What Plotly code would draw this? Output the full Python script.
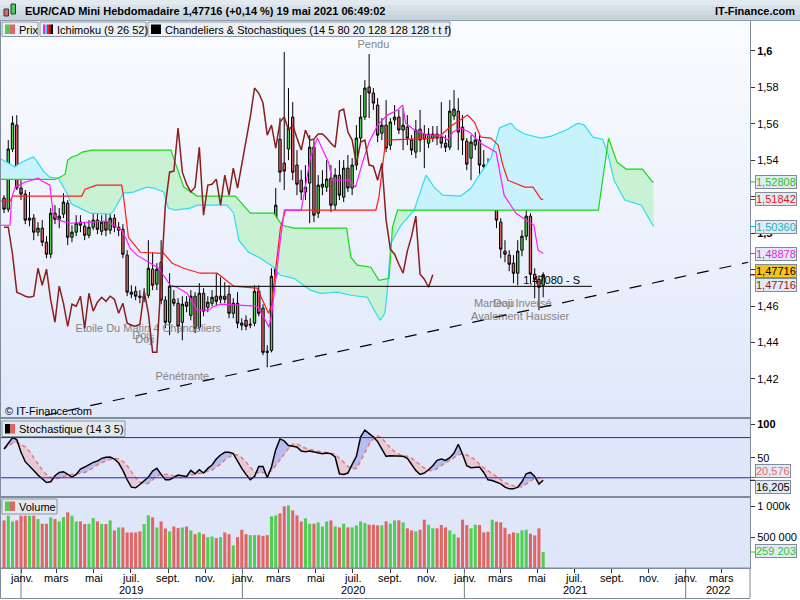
import numpy as np
import pandas as pd
import plotly.graph_objects as go
from plotly.subplots import make_subplots

# ---------------------------------------------------------------- data
# weekly EUR/CAD candles as drawn on the chart (first week, then +7 days)
first_week = "2018-12-04"

opens = [1.5192, 1.5131, 1.5461, 1.5592, 1.5247, 1.5214, 1.5071, 1.5082, 1.5005, 1.5027,
         1.4950, 1.4884, 1.5109, 1.5076, 1.5104, 1.5164, 1.4977, 1.5005, 1.5060, 1.5038,
         1.4988, 1.5032, 1.5071, 1.5010, 1.5060, 1.5016, 1.5082, 1.5016, 1.5021, 1.4879,
         1.4676, 1.4681, 1.4654, 1.4643, 1.4659, 1.4802, 1.4720, 1.4840, 1.4632, 1.4511,
         1.4637, 1.4615, 1.4511, 1.4621, 1.4549, 1.4654, 1.4484, 1.4670, 1.4593, 1.4615,
         1.4654, 1.4637, 1.4654, 1.4665, 1.4560, 1.4615, 1.4506, 1.4522, 1.4495, 1.4506,
         1.4681, 1.4588, 1.4352, 1.4357, 1.4769, 1.5515, 1.5384, 1.5461, 1.5636, 1.5373,
         1.5290, 1.5225, 1.5274, 1.5471, 1.5109, 1.5252, 1.5252, 1.5301, 1.5153, 1.5318,
         1.5197, 1.5356, 1.5247, 1.5373, 1.5521, 1.5636, 1.5801, 1.5768, 1.5702, 1.5548,
         1.5592, 1.5482, 1.5620, 1.5636, 1.5565, 1.5581, 1.5510, 1.5444, 1.5570, 1.5543,
         1.5493, 1.5521, 1.5543, 1.5526, 1.5493, 1.5471, 1.5642, 1.5669, 1.5581, 1.5504,
         1.5411, 1.5482, 1.5510, 1.5373, 1.5373, 1.5290, 1.5384, 1.5060, 1.4901, 1.4879,
         1.4835, 1.4780, 1.4906, 1.4983, 1.5093, 1.4774, 1.4747, 1.4714]
highs = [1.5208, 1.5510, 1.5642, 1.5647, 1.5290, 1.5236, 1.5225, 1.5104, 1.5060, 1.5071,
         1.4983, 1.5137, 1.5153, 1.5137, 1.5219, 1.5181, 1.5043, 1.5098, 1.5098, 1.5060,
         1.5071, 1.5115, 1.5181, 1.5098, 1.5115, 1.5115, 1.5104, 1.5060, 1.5049, 1.4906,
         1.4714, 1.4709, 1.4687, 1.4698, 1.4961, 1.4895, 1.4835, 1.4961, 1.4654, 1.4780,
         1.4687, 1.4643, 1.4654, 1.4654, 1.4687, 1.4676, 1.4725, 1.4698, 1.4654, 1.4687,
         1.4780, 1.4758, 1.4731, 1.4714, 1.4643, 1.4676, 1.4533, 1.4549, 1.4533, 1.4714,
         1.4714, 1.4610, 1.4385, 1.4807, 1.5247, 1.5631, 1.5993, 1.5795, 1.5718, 1.5455,
         1.5345, 1.5373, 1.5537, 1.5510, 1.5318, 1.5345, 1.5400, 1.5373, 1.5356, 1.5400,
         1.5400, 1.5428, 1.5411, 1.5592, 1.5757, 1.5839, 1.5982, 1.5795, 1.5740, 1.5631,
         1.5729, 1.5631, 1.5702, 1.5675, 1.5686, 1.5647, 1.5537, 1.5620, 1.5675, 1.5592,
         1.5576, 1.5587, 1.5587, 1.5718, 1.5537, 1.5729, 1.5784, 1.5740, 1.5647, 1.5521,
         1.5537, 1.5554, 1.5537, 1.5455, 1.5411, 1.5411, 1.5428, 1.5082, 1.4961, 1.4906,
         1.4879, 1.4961, 1.5016, 1.5192, 1.5109, 1.4807, 1.4769, 1.4785]
lows = [1.5109, 1.5115, 1.5444, 1.5236, 1.5181, 1.5049, 1.5038, 1.4961, 1.4983, 1.4928,
        1.4862, 1.4862, 1.5049, 1.5027, 1.5082, 1.4934, 1.4950, 1.4983, 1.5005, 1.4961,
        1.4972, 1.5016, 1.4994, 1.4988, 1.4983, 1.4994, 1.5005, 1.4983, 1.4862, 1.4654,
        1.4643, 1.4632, 1.4615, 1.4621, 1.4643, 1.4687, 1.4687, 1.4610, 1.4478, 1.4440,
        1.4599, 1.4451, 1.4412, 1.4566, 1.4522, 1.4451, 1.4467, 1.4544, 1.4566, 1.4599,
        1.4604, 1.4615, 1.4615, 1.4533, 1.4533, 1.4478, 1.4467, 1.4467, 1.4478, 1.4489,
        1.4544, 1.4330, 1.4264, 1.4346, 1.4752, 1.5279, 1.5236, 1.5400, 1.5290, 1.5208,
        1.5181, 1.5181, 1.5054, 1.5060, 1.5082, 1.5208, 1.5225, 1.5115, 1.5126, 1.5181,
        1.5170, 1.5225, 1.5208, 1.5345, 1.5499, 1.5620, 1.5631, 1.5675, 1.5499, 1.5510,
        1.5444, 1.5455, 1.5592, 1.5543, 1.5455, 1.5482, 1.5428, 1.5411, 1.5444, 1.5356,
        1.5466, 1.5499, 1.5482, 1.5466, 1.5444, 1.5455, 1.5620, 1.5455, 1.5428, 1.5345,
        1.5290, 1.5455, 1.5192, 1.5334, 1.5263, 1.5236, 1.5027, 1.4862, 1.4840, 1.4791,
        1.4725, 1.4714, 1.4873, 1.4961, 1.4725, 1.4643, 1.4577, 1.4648]
closes = [1.5131, 1.5461, 1.5603, 1.5247, 1.5214, 1.5071, 1.5082, 1.5005, 1.5027, 1.4950,
          1.4884, 1.5109, 1.5076, 1.5093, 1.5170, 1.4977, 1.5005, 1.5054, 1.5043, 1.4988,
          1.5032, 1.5071, 1.5021, 1.5060, 1.5016, 1.5082, 1.5032, 1.5032, 1.4884, 1.4676,
          1.4665, 1.4654, 1.4648, 1.4654, 1.4807, 1.4714, 1.4802, 1.4632, 1.4511, 1.4709,
          1.4615, 1.4489, 1.4610, 1.4599, 1.4654, 1.4478, 1.4670, 1.4572, 1.4621, 1.4648,
          1.4626, 1.4654, 1.4637, 1.4560, 1.4615, 1.4506, 1.4495, 1.4489, 1.4500, 1.4681,
          1.4560, 1.4346, 1.4346, 1.4763, 1.5153, 1.5334, 1.5340, 1.5576, 1.5334, 1.5268,
          1.5225, 1.5252, 1.5471, 1.5098, 1.5263, 1.5268, 1.5296, 1.5153, 1.5318, 1.5208,
          1.5356, 1.5247, 1.5373, 1.5521, 1.5636, 1.5795, 1.5768, 1.5713, 1.5537, 1.5592,
          1.5466, 1.5609, 1.5636, 1.5565, 1.5592, 1.5521, 1.5455, 1.5565, 1.5510, 1.5515,
          1.5543, 1.5543, 1.5521, 1.5493, 1.5471, 1.5669, 1.5680, 1.5554, 1.5510, 1.5378,
          1.5499, 1.5510, 1.5373, 1.5367, 1.5290, 1.5384, 1.5071, 1.4912, 1.4884, 1.4829,
          1.4780, 1.4901, 1.4983, 1.5093, 1.4774, 1.4747, 1.4703, 1.47716]
volumes = [771000, 847000, 755000, 771000, 847000, 847000, 847000, 847000, 793000, 717000,
           717000, 820000, 793000, 755000, 826000, 901000, 847000, 755000, 755000, 712000,
           717000, 809000, 755000, 712000, 712000, 771000, 608000, 657000, 657000, 576000,
           576000, 576000, 592000, 712000, 853000, 820000, 657000, 755000, 641000, 592000,
           673000, 646000, 657000, 673000, 608000, 548000, 576000, 548000, 500000, 511000,
           484000, 500000, 576000, 548000, 365000, 500000, 619000, 548000, 532000, 532000,
           532000, 521000, 532000, 836000, 853000, 885000, 999000, 1015000, 934000, 853000,
           755000, 804000, 717000, 717000, 739000, 673000, 755000, 771000, 673000, 657000,
           717000, 657000, 657000, 690000, 755000, 728000, 701000, 701000, 690000, 690000,
           755000, 717000, 771000, 772000, 739000, 642000, 609000, 593000, 620000, 783000,
           701000, 642000, 642000, 696000, 658000, 609000, 549000, 495000, 783000, 696000,
           642000, 701000, 696000, 577000, 587000, 783000, 750000, 739000, 653000, 549000,
           577000, 566000, 609000, 620000, 555000, 528000, 642000, 259203]

# Stochastique %K (14 3 5)
stoch_k = [63, 72, 80, 77, 58, 44, 38, 31, 24, 19,
           13, 14, 23, 28, 29, 25, 21, 25, 33, 36,
           39.5, 43, 45, 49, 50.5, 51, 48, 42, 31, 17,
           6, 5, 10, 16, 21, 30, 34, 25, 17, 17,
           21, 24, 23, 22, 31, 26, 32, 27, 34, 39,
           48, 54, 58, 58, 56, 44, 34, 25, 17, 22,
           37, 37, 20, 36, 62, 78, 75, 68, 67, 66,
           60, 59, 60, 59, 57, 56, 57, 56, 51, 26,
           25, 27, 40, 52, 81, 91, 86, 81, 74, 64,
           52, 53, 53, 53, 52, 49, 40, 31, 25, 27,
           32, 38, 46, 48, 46, 50, 57, 70, 55, 38,
           35, 36, 36, 28, 17, 16, 13, 11, 6, 3.5,
           3.5, 6, 14, 26, 28, 22, 10.675, 16.205]

# Ichimoku (9 26 52) lines read as (week index, price) vertices
tenkan_idx = [-1, 1.4, 1.8, 2.6, 4.9, 8.1, 8.9, 10.8, 11.6, 12.8, 15.5, 19.9, 24.2, 25.8, 27.7,
              28.9, 29.7, 31.3, 34.4, 36.4, 39.2, 40.7, 43.1, 45.5, 48.2, 49.0, 51.0, 58.0, 59.6,
              61.2, 62.4, 63, 64, 65, 66, 70, 72.2, 73.8, 75.3, 76.5, 77.3, 81.3, 82.8, 84.4,
              86.0, 88.0, 90.3, 92.7, 93.9, 94.6, 96.6, 99.8, 102.9, 104.5, 105.7, 107.6, 109.6,
              112.3, 115.9, 117.8, 120.6, 123.4, 124.8, 125.8, 127]
tenkan_val = [1.5043, 1.5043, 1.5192, 1.5252, 1.5279, 1.5301, 1.5285, 1.5263, 1.5098, 1.5071,
              1.5054, 1.5060, 1.5065, 1.5043, 1.5016, 1.4961, 1.4917, 1.4879, 1.4835, 1.4807,
              1.4714, 1.4703, 1.4670, 1.4577, 1.4577, 1.4593, 1.4610, 1.4604, 1.4599, 1.4538,
              1.4484, 1.4549, 1.4758, 1.4945, 1.5126, 1.5126, 1.5417, 1.5521, 1.5444, 1.5384,
              1.5290, 1.5290, 1.5252, 1.5384, 1.5499, 1.5592, 1.5647, 1.5675, 1.5702, 1.5603,
              1.5565, 1.5537, 1.5537, 1.5510, 1.5554, 1.5576, 1.5554, 1.5493, 1.5444, 1.5208,
              1.5109, 1.5065, 1.5043, 1.4906, 1.48878]
kijun_idx = [-1, 1.4, 2.1, 18.3, 19.1, 21.8, 27.7, 28.1, 29.3, 32.1, 37.6, 39.6, 42.3, 46.2,
             50.2, 54.1, 59.6, 60.9, 62.3, 63.0, 64.2, 65.1, 66.3, 87.6, 88.3, 89.9, 101.3, 102.9,
             105.3, 107.6, 109.2, 110.8, 112.3, 114.7, 116.4, 117.5, 118.7, 122.6, 124.6, 126.5, 127]
kijun_val = [1.5175, 1.5175, 1.5203, 1.5203, 1.5241, 1.5263, 1.5263, 1.5208, 1.4977, 1.4895,
             1.4889, 1.4835, 1.4807, 1.4780, 1.4780, 1.4709, 1.4698, 1.4632, 1.4560, 1.4604,
             1.4851, 1.5027, 1.5126, 1.5126, 1.5197, 1.5510, 1.5521, 1.5537, 1.5587, 1.5620,
             1.5647, 1.5609, 1.5526, 1.5521, 1.5482, 1.5373, 1.5290, 1.5252, 1.5252, 1.5186,
             1.51842]
span_a_idx = [-1.0, 0.2, 2.55, 4.1, 6.9, 7.7, 9.2, 10.8, 12.8, 14.8, 15.9, 17.9, 20.3, 25.0, 25.8,
              28.1, 30.5, 33.6, 35.2, 37.6, 38.7, 40.3, 43.9, 45.5, 52.5, 54.1, 55.3, 57.6, 60.4,
              63.5, 65.1, 68.3, 72.2, 74.6, 78.5, 81.7, 85.6, 87.2, 88.6, 89.7, 90.3, 91.1, 93.5,
              96.6, 99.4, 101.3, 103.3, 107.6, 110.0, 112.4, 114.7, 116.7, 119.4, 120.6, 122.6,
              126.5, 128.9, 132.4, 135.2, 136.7, 138.7, 141.0, 142.2, 143.7, 146.2, 150.1, 153.0]
span_a_val = [1.5411, 1.5395, 1.5362, 1.5389, 1.5417, 1.5396, 1.5341, 1.5307, 1.5301, 1.5219,
              1.5159, 1.5137, 1.5109, 1.5104, 1.5120, 1.5219, 1.5225, 1.5252, 1.5247, 1.5225,
              1.5137, 1.5126, 1.5137, 1.5153, 1.5153, 1.5109, 1.4961, 1.4895, 1.4862, 1.4813,
              1.4769, 1.4752, 1.4687, 1.4670, 1.4676, 1.4659, 1.4648, 1.4577, 1.4522, 1.4560,
              1.4687, 1.4945, 1.5043, 1.5126, 1.5318, 1.5252, 1.5208, 1.5203, 1.5247, 1.5334,
              1.5411, 1.5576, 1.5603, 1.5570, 1.5543, 1.5521, 1.5532, 1.5565, 1.5603, 1.5592,
              1.5526, 1.5515, 1.5439, 1.5290, 1.5181, 1.5153, 1.50360]
span_b_idx = [-1, 12.0, 13.6, 14.4, 15.0, 16.0, 17.4, 18.4, 20.7, 39.3, 42.3, 45.5, 54.5, 58.0,
              63.5, 65.5, 68.3, 80.7, 81.7, 83.2, 86.4, 88.3, 90.7, 91.5, 92.7, 140.0, 142.4,
              144.4, 146.5, 150.4, 152.7, 153.0]
span_b_val = [1.5294, 1.5294, 1.5312, 1.5323, 1.5400, 1.5417, 1.5428, 1.5444, 1.5455, 1.5455,
              1.5254, 1.5203, 1.5203, 1.5109, 1.5109, 1.5043, 1.5027, 1.5027, 1.4868, 1.4824,
              1.4813, 1.4741, 1.4752, 1.5032, 1.5126, 1.5126, 1.5521, 1.5389, 1.5351, 1.5351,
              1.52808, 1.52808]
chikou_shift = 26

support_level = 1.4708
support_span = ["2019-09-06", "2021-07-30"]
support_label_at = "2021-04-08"
trend_dates = ["2019-01-04", "2022-04-14"]
trend_prices = [1.3973, 1.4840]

pattern_text = ["Pendu", "Etoile Du Matin 4 Chandeliers", "Doji", "Doji", "Pénétrante",
                "Marteau", "Doji Inversé", "Avalement Haussier"]
pattern_date = ["2020-08-04", "2019-07-30", "2019-07-19", "2019-07-24", "2019-09-24",
                "2021-02-19", "2021-04-07", "2021-04-03"]
pattern_price = [1.6031, 1.4473, 1.4434, 1.4412, 1.4209, 1.4609, 1.4609, 1.4540]

# 1,52 and 1,48 sit behind the value boxes on the original, only their ticks show
price_ticks = [1.42, 1.44, 1.46, 1.48, 1.50, 1.52, 1.54, 1.56, 1.58, 1.60]
price_ticktext = ["1,42", "1,44", "1,46", "", "<b>1,5</b>", "", "1,54", "1,56", "1,58",
                  "<b>1,6</b>"]
stoch_ticks = [50, 100]
stoch_ticktext = ["50", "<b>100</b>"]
vol_ticks = [500000, 1000000]
vol_ticktext = ["500 000", "1 000k"]
month_names = {1: "janv.", 3: "mars", 5: "mai", 7: "juil.", 9: "sept.", 11: "nov."}
x_range = ["2018-11-29", "2022-04-17"]

# ---------------------------------------------------------------- helpers
GREEN = "#4fcf4f"
RED = "#e06565"
BORDER = "#7f8c99"
FONT = "Liberation Sans, Arial, sans-serif"
TOP, BOTTOM = 21, 568          # plot area, in page pixels
start = pd.Timestamp(first_week)


def to_dates(idx):
    return [None if v is None else start + pd.Timedelta(days=7 * float(v)) for v in idx]


def fr(v, nd=5):
    return f"{v:.{nd}f}".replace(".", ",")


def px(x):  # pixel -> paper x
    return (x - 1) / 749


def py(y):  # pixel -> paper y
    return (BOTTOM - y) / (BOTTOM - TOP)


def band_polygons(ia, va, ib, vb):
    grid = np.union1d(ia, ib)
    a = np.interp(grid, ia, va)
    b = np.interp(grid, ib, vb)
    t, ua, ub = [grid[0]], [a[0]], [b[0]]
    for k in range(1, len(grid)):
        d0, d1 = a[k - 1] - b[k - 1], a[k] - b[k]
        if d0 * d1 < 0:
            f = d0 / (d0 - d1)
            yc = a[k - 1] + f * (a[k] - a[k - 1])
            t.append(grid[k - 1] + f * (grid[k] - grid[k - 1]))
            ua.append(yc)
            ub.append(yc)
        t.append(grid[k])
        ua.append(a[k])
        ub.append(b[k])
    polys = {True: ([], []), False: ([], [])}

    def add(sign, run):
        xs, ys = polys[sign]
        xs.extend([t[j] for j in run] + [t[j] for j in run[::-1]] + [None])
        ys.extend([ua[j] for j in run] + [ub[j] for j in run[::-1]] + [None])

    run, sign = [0], None
    for k in range(len(t) - 1):
        s = (ua[k] + ua[k + 1]) >= (ub[k] + ub[k + 1])
        if sign is None or s == sign:
            run.append(k + 1)
        else:
            add(sign, run)
            run = [k, k + 1]
        sign = s
    add(sign, run)
    return polys


weeks = to_dates(range(len(closes)))
stoch_d = pd.Series(stoch_k).rolling(5, min_periods=1).mean().tolist()

fig = make_subplots(rows=3, cols=1, shared_xaxes=True, vertical_spacing=0,
                    row_heights=[397, 79, 71])

# ---------------------------------------------------------------- main panel
cloud = band_polygons(span_a_idx, span_a_val, span_b_idx, span_b_val)
for sign, col in ((True, "#c8f3fc"), (False, "#c8f2d3")):
    xs, ys = cloud[sign]
    fig.add_trace(go.Scatter(x=to_dates(xs), y=ys, fill="toself", fillcolor=col, mode="none",
                             hoverinfo="skip", showlegend=False), row=1, col=1)

fig.add_trace(go.Scatter(x=pattern_date, y=pattern_price, text=pattern_text, mode="text",
                         textfont=dict(family=FONT, size=11, color="#858585"),
                         hoverinfo="skip", showlegend=False), row=1, col=1)
fig.add_trace(go.Scatter(x=[support_label_at], y=[support_level],
                         text=[f"{fr(support_level)} - S"], mode="text",
                         textposition="top right",
                         textfont=dict(family=FONT, size=11, color="black"),
                         hoverinfo="skip", showlegend=False), row=1, col=1)

fig.add_trace(go.Candlestick(
    x=weeks, open=opens, high=highs, low=lows, close=closes,
    increasing=dict(fillcolor=GREEN, line=dict(color="black", width=1)),
    decreasing=dict(fillcolor=RED, line=dict(color="black", width=1)),
    whiskerwidth=0, hoverinfo="skip", showlegend=False), row=1, col=1)

for idx, val, col in ((span_a_idx, span_a_val, "#2fdcf5"), (span_b_idx, span_b_val, "#1ad81a"),
                      (kijun_idx, kijun_val, "#ff1c1c"), (tenkan_idx, tenkan_val, "#ff1aff")):
    fig.add_trace(go.Scatter(x=to_dates(idx), y=val, mode="lines", line=dict(color=col, width=1.2),
                             hoverinfo="skip", showlegend=False), row=1, col=1)

fig.add_trace(go.Scatter(x=weeks[:-chikou_shift], y=closes[chikou_shift:], mode="lines",
                         line=dict(color="#8b1e1e", width=1.5), hoverinfo="skip",
                         showlegend=False), row=1, col=1)
fig.add_trace(go.Scatter(x=support_span, y=[support_level, support_level], mode="lines",
                         line=dict(color="black", width=1), hoverinfo="skip",
                         showlegend=False), row=1, col=1)
fig.add_trace(go.Scatter(x=trend_dates, y=trend_prices, mode="lines",
                         line=dict(color="black", width=1.2, dash="12px,11px"),
                         hoverinfo="skip", showlegend=False), row=1, col=1)

# ---------------------------------------------------------------- stochastic
bands = band_polygons(list(range(len(stoch_k))), stoch_k, list(range(len(stoch_d))), stoch_d)
for sign, col in ((True, "#b6bdf0"), (False, "#e8c9d6")):
    xs, ys = bands[sign]
    fig.add_trace(go.Scatter(x=to_dates(xs), y=ys, fill="toself", fillcolor=col, mode="none",
                             hoverinfo="skip", showlegend=False), row=2, col=1)
fig.add_trace(go.Scatter(x=weeks, y=stoch_d, mode="lines",
                         line=dict(color="#e87a7a", width=1.5, dash="4px,3px"),
                         hoverinfo="skip", showlegend=False), row=2, col=1)
fig.add_trace(go.Scatter(x=weeks, y=stoch_k, mode="lines", line=dict(color="black", width=1.5),
                         hoverinfo="skip", showlegend=False), row=2, col=1)

# ---------------------------------------------------------------- volume
vol_colors = [GREEN if c >= o else RED for o, c in zip(opens, closes)]
fig.add_trace(go.Bar(x=weeks, y=volumes, marker=dict(color=vol_colors, line=dict(width=0)),
                     hoverinfo="skip", showlegend=False), row=3, col=1)

# ---------------------------------------------------------------- axes
month_ticks = [d for d in pd.date_range("2019-01-01", x_range[1], freq="MS") if d.month in month_names]
fig.update_xaxes(range=x_range, showgrid=False, zeroline=False, showline=True, linecolor=BORDER,
                 mirror=True, rangeslider_visible=False)
fig.update_xaxes(row=3, col=1, tickmode="array", tickvals=month_ticks, showticklabels=False,
                 ticks="outside", ticklen=4, tickcolor="#333")
axis_common = dict(side="right", showgrid=False, zeroline=False, showline=True, linecolor=BORDER,
                   mirror=True, ticks="outside", ticklen=4, tickcolor="#333",
                   tickfont=dict(size=11, color="black"), tickmode="array")
fig.update_yaxes(row=1, col=1, range=[1.3986, 1.6163], tickvals=price_ticks,
                 ticktext=price_ticktext, **axis_common)
fig.update_yaxes(row=2, col=1, range=[-8.7, 109.2], tickvals=stoch_ticks,
                 ticktext=stoch_ticktext, **axis_common)
fig.update_yaxes(row=3, col=1, range=[0, 1150000], tickvals=vol_ticks,
                 ticktext=vol_ticktext, **axis_common)

shapes = []
# gradient background of the price panel
n = 30
top, bot = np.array([251, 252, 255]), np.array([224, 232, 250])
for k in range(n):
    c = top + (bot - top) * (k + 0.5) / n
    shapes.append(dict(type="rect", xref="x domain", yref="y domain", x0=0, x1=1,
                       y0=1 - (k + 1) / n, y1=1 - k / n + 0.001, layer="below", line=dict(width=0),
                       fillcolor="rgb(%d,%d,%d)" % tuple(c)))
for lvl in (20, 80):
    shapes.append(dict(type="line", xref="x2 domain", yref="y2", x0=0, x1=1, y0=lvl, y1=lvl,
                       line=dict(color="#2828c0", width=1)))
# year separators under the axis and frame of the date band
for yr in range(2019, 2023):
    shapes.append(dict(type="line", xref="x3", yref="paper", x0=f"{yr}-01-01", x1=f"{yr}-01-01",
                       y0=0, y1=py(598), line=dict(color="#6f7c88", width=1)))


def prect(x0, y0, x1, y1, fill, line=None):
    shapes.append(dict(type="rect", xref="paper", yref="paper", x0=px(x0), x1=px(x1),
                       y0=py(y1), y1=py(y0), fillcolor=fill, layer="above",
                       line=dict(color=line or fill, width=1 if line else 0)))


prect(0.5, 568, 750, 598.5, "rgba(0,0,0,0)", BORDER)
# header bar
for k, col in enumerate(["#e2e9ef", "#d8e1e9", "#cfdae3", "#c6d3dd"]):
    prect(-1, k * 5, 801, k * 5 + 5.2, col)
shapes.append(dict(type="line", xref="paper", yref="paper", x0=px(-1), x1=px(801), y0=py(20.5),
                   y1=py(20.5), line=dict(color="#8d9dab", width=1), layer="above"))
prect(2, 22, 38, 36.5, "#eceff3", "#8797a6")
prect(40, 22, 146, 36.5, "#eceff3", "#8797a6")
prect(148, 22, 450, 36.5, "#eceff3", "#8797a6")
# header icons
prect(4, 9, 8.5, 16, RED, "#333")
prect(11, 4, 15.5, 14, GREEN, "#333")
prect(5, 24.5, 10, 34, GREEN)
prect(10, 24.5, 15, 34, RED)
for k, col in enumerate(["#ff1aff", "#2fdcf5", "#ff1c1c", "#8b1e1e", "black"]):
    prect(43 + 2 * k, 24.5, 45 + 2 * k, 34, col)
prect(151, 24.5, 161, 34, "black")
# panel labels
prect(2, 421, 125, 436.5, "#e4e8ee", "#8797a6")
prect(5, 424, 10, 433.5, "black")
prect(10, 424, 15, 433.5, RED)
prect(2, 499, 57, 514, "#e4e8ee", "#8797a6")
prect(5, 501.5, 10, 511, GREEN)
prect(10, 501.5, 15, 511, RED)


def ptext(x, y, text, anchor="left"):
    return dict(x=px(x), y=py(y), xref="paper", yref="paper", xanchor=anchor, yanchor="middle",
                showarrow=False, text=text)


annotations = [
    ptext(23, 11.5, f"<b>EUR/CAD Mini Hebdomadaire {fr(closes[-1])} (+0,14 %) 19 mai 2021 06:49:02</b>"),
    ptext(797, 11, "<b>IT-Finance.com</b>", "right"),
    ptext(17, 29.5, "Prix"),
    ptext(55, 29.5, "Ichimoku (9 26 52)"),
    ptext(163, 29.5, "Chandeliers & Stochastiques (14 5 80 20 128 128 128 t t f)"),
    ptext(17, 429, "Stochastique (14 3 5)"),
    ptext(17, 507, "Volume"),
    ptext(3, 411, "© IT-Finance.com"),
]
# month labels under the ticks, years centred on the visible part of each year
for d in month_ticks:
    annotations.append(dict(x=d, y=py(578), xref="x3", yref="paper", xanchor="center",
                            yanchor="middle", showarrow=False, text=month_names[d.month]))
lo, hi = pd.Timestamp(x_range[0]), pd.Timestamp(x_range[1])
for yr in range(2019, 2023):
    a = max(pd.Timestamp(f"{yr}-01-01"), lo)
    b = min(pd.Timestamp(f"{yr}-12-31"), hi)
    annotations.append(dict(x=a + (b - a) / 2, y=py(590), xref="x3", yref="paper",
                            xanchor="center", yanchor="middle", showarrow=False, text=str(yr)))

# value boxes on the right scales
boxes = [("y", span_b_val[-1], fr(span_b_val[-1]), "#22c522", "#e4eaf3", 0),
         ("y", kijun_val[-1], fr(kijun_val[-1]), "#e81818", "#e4eaf3", 0),
         ("y", span_a_val[-1], fr(span_a_val[-1]), "#14b4c4", "#e4eaf3", 0),
         ("y", tenkan_val[-1], fr(tenkan_val[-1]), "#e01ee0", "#e4eaf3", 0),
         ("y", closes[-1], fr(closes[-1]), "black", "#f7c417", 4),
         ("y", closes[-1], fr(closes[-1]), "#8b1e1e", "#e4eaf3", -10),
         ("y2", stoch_d[-1], fr(stoch_d[-1], 3), "#e86a6a", "#e4eaf3", 6),
         ("y2", stoch_k[-1], fr(stoch_k[-1], 3), "black", "#e4eaf3", -7),
         ("y3", volumes[-1], f"{volumes[-1]:,}".replace(",", " "), "#2fc42f", "#e4eaf3", 1)]
for yref, val, txt, col, bg, shift in boxes:
    annotations.append(dict(x=1, xref="paper", xanchor="left", xshift=5, y=val, yref=yref,
                            yanchor="middle", yshift=shift, showarrow=False, text=txt,
                            font=dict(color=col, size=11), bgcolor=bg, bordercolor="#7d8d9c",
                            borderwidth=1, borderpad=0))
    shapes.append(dict(type="line", xref="paper", yref=yref, x0=1, x1=1 + 5 / 749, y0=val, y1=val,
                       line=dict(color=col if col != "#e86a6a" else "#c04040", width=1)))

fig.update_layout(width=800, height=600, margin=dict(l=1, r=50, t=TOP, b=600 - BOTTOM),
                  paper_bgcolor="white", plot_bgcolor="#dfe6f9", bargap=0.28, boxgap=0.2,
                  font=dict(family=FONT, size=11, color="black"), hovermode=False,
                  showlegend=False, shapes=shapes, annotations=annotations)

fig.write_html("out.html", config={"displayModeBar": False},
               post_script="document.body.style.margin='0';"
                           "document.body.style.overflow='hidden';")
